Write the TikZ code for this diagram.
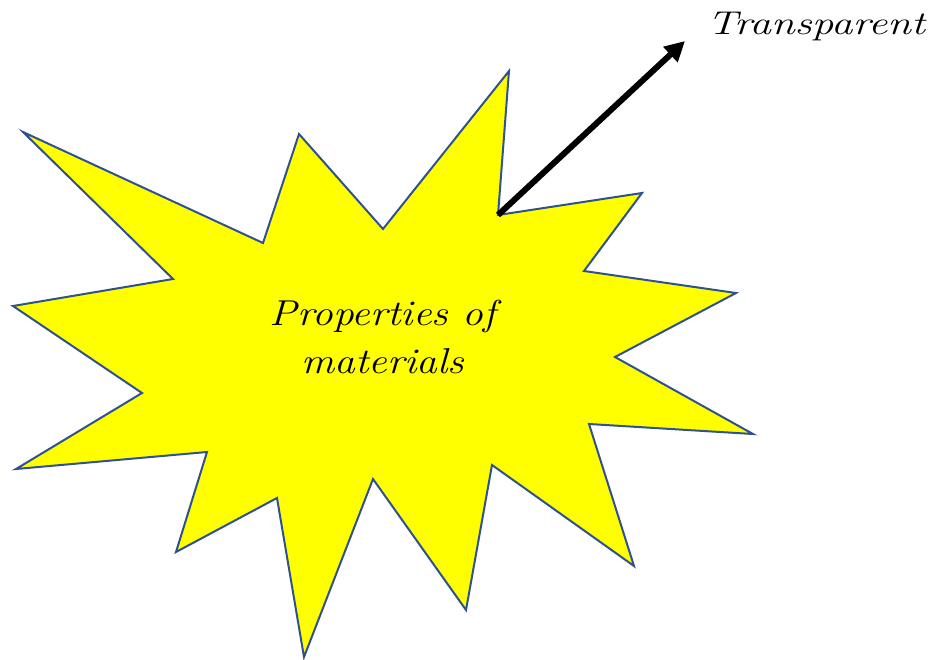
\documentclass[tikz,border=0pt]{standalone}
\usepackage{graphicx}
\usetikzlibrary{arrows.meta}
\definecolor{starline}{RGB}{47,82,143}
\definecolor{starfill}{RGB}{255,255,0}
\tikzset{
  starshape/.style={draw=starline, fill=starfill, line width=2pt, line join=miter},
  labeltext/.style={font=\fontsize{36}{48}\selectfont\itshape, align=center, inner sep=0pt},
  toptext/.style={font=\fontsize{33}{40}\selectfont\itshape, inner sep=0pt},
  bigarrow/.style={line width=6pt, -{Triangle[length=20pt,width=20pt]}}
}
\begin{document}
\begin{tikzpicture}[x=1pt,y=-1pt]
\useasboundingbox (0,0) rectangle (942,659);
\draw[starshape] (509,71) -- (498,215) -- (642,193) -- (584,271) -- (736,293)
  -- (615,357) -- (753,434) -- (589,424) -- (634,566) -- (492,465)
  -- (466,610) -- (373,479) -- (304,657) -- (277,498) -- (176,552)
  -- (207,452) -- (16,469) -- (142,393) -- (13,306) -- (173,279)
  -- (23,132) -- (263,243) -- (299,134) -- (383,229) -- cycle;
\coordinate (src) at (498,215);
\coordinate (tip) at (685,41);
\node[labeltext] (center) at (383,337) {\scalebox{1.15}[1]{Properties of}\\\scalebox{1.15}[1]{materials}};
\node[toptext, anchor=west] (transp) at (707,27) {\scalebox{1.3}[1]{Transparent}};
\draw[bigarrow] (src) -- (tip);
\end{tikzpicture}
\end{document}
